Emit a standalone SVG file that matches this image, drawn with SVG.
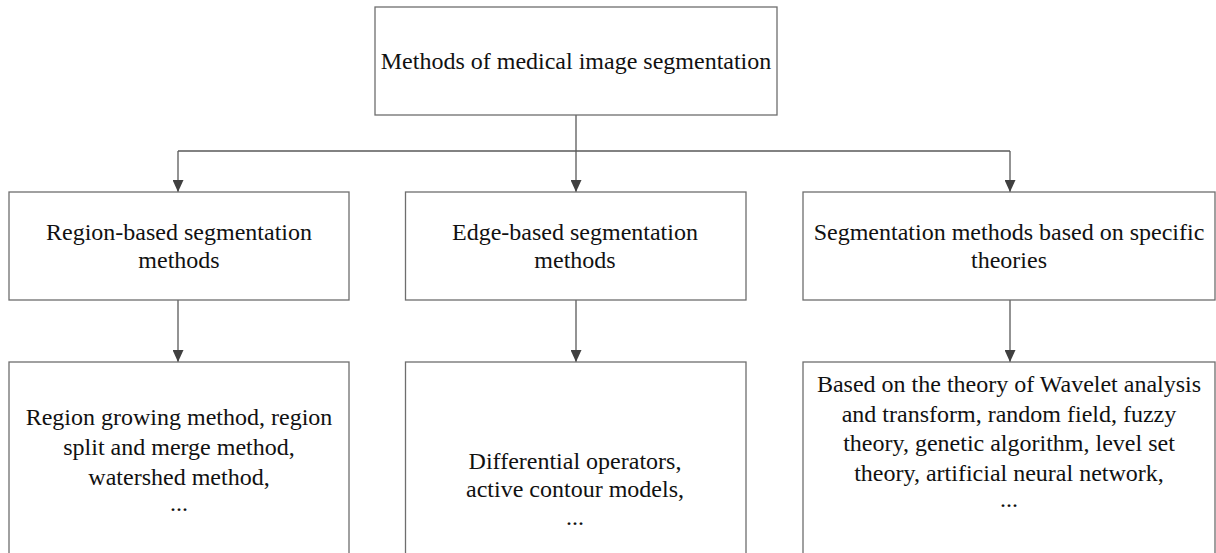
<svg xmlns="http://www.w3.org/2000/svg" width="1216" height="553" viewBox="0 0 1216 553">
<style>
.box{fill:#ffffff;stroke:#6e6e6e;stroke-width:1.3}
.t{font-family:"Liberation Serif","Times New Roman",serif;font-size:24px;fill:#111111;text-anchor:middle}
.c{fill:none;stroke:#595959;stroke-width:1.3}
</style>
<defs>
<marker id="arr" markerUnits="userSpaceOnUse" markerWidth="12" markerHeight="11" refX="12" refY="5.5" orient="auto">
<path d="M0,0 L12,5.5 L0,11 z" fill="#404040"/>
</marker>
</defs>
<rect width="1216" height="553" fill="#ffffff"/>
<g id="connectors">
<path class="c" d="M576,115 V151"/>
<path class="c" d="M178,151 H1010"/>
<path class="c" d="M178,151 V192" marker-end="url(#arr)"/>
<path class="c" d="M576,151 V192" marker-end="url(#arr)"/>
<path class="c" d="M1010,151 V192" marker-end="url(#arr)"/>
<path class="c" d="M178,300 V362" marker-end="url(#arr)"/>
<path class="c" d="M576,300 V362" marker-end="url(#arr)"/>
<path class="c" d="M1010,300 V362" marker-end="url(#arr)"/>
</g>
<g id="root">
<rect class="box" x="375" y="7" width="402" height="108"/>
<text class="t" x="576" y="69">Methods of medical image segmentation</text>
</g>
<g id="region">
<rect class="box" x="9" y="192" width="340" height="108"/>
<text class="t" x="179" y="240">Region-based segmentation</text>
<text class="t" x="179" y="268">methods</text>
</g>
<g id="edge">
<rect class="box" x="405.5" y="192" width="340.5" height="108"/>
<text class="t" x="575" y="240">Edge-based segmentation</text>
<text class="t" x="575" y="268">methods</text>
</g>
<g id="theory">
<rect class="box" x="803" y="192" width="412" height="108"/>
<text class="t" x="1009" y="240">Segmentation methods based on specific</text>
<text class="t" x="1009" y="268">theories</text>
</g>
<g id="region-detail">
<rect class="box" x="9" y="362" width="340" height="200"/>
<text class="t" x="179" y="425">Region growing method, region</text>
<text class="t" x="179" y="455">split and merge method,</text>
<text class="t" x="179" y="485">watershed method,</text>
<text class="t" x="179" y="511">...</text>
</g>
<g id="edge-detail">
<rect class="box" x="405.5" y="362" width="340.5" height="200"/>
<text class="t" x="575" y="469">Differential operators,</text>
<text class="t" x="575" y="497">active contour models,</text>
<text class="t" x="575" y="525">...</text>
</g>
<g id="theory-detail">
<rect class="box" x="803" y="362" width="412" height="200"/>
<text class="t" x="1009" y="392">Based on the theory of Wavelet analysis</text>
<text class="t" x="1009" y="422">and transform, random field, fuzzy</text>
<text class="t" x="1009" y="451">theory, genetic algorithm, level set</text>
<text class="t" x="1009" y="481">theory, artificial neural network,</text>
<text class="t" x="1009" y="507">...</text>
</g>
</svg>
